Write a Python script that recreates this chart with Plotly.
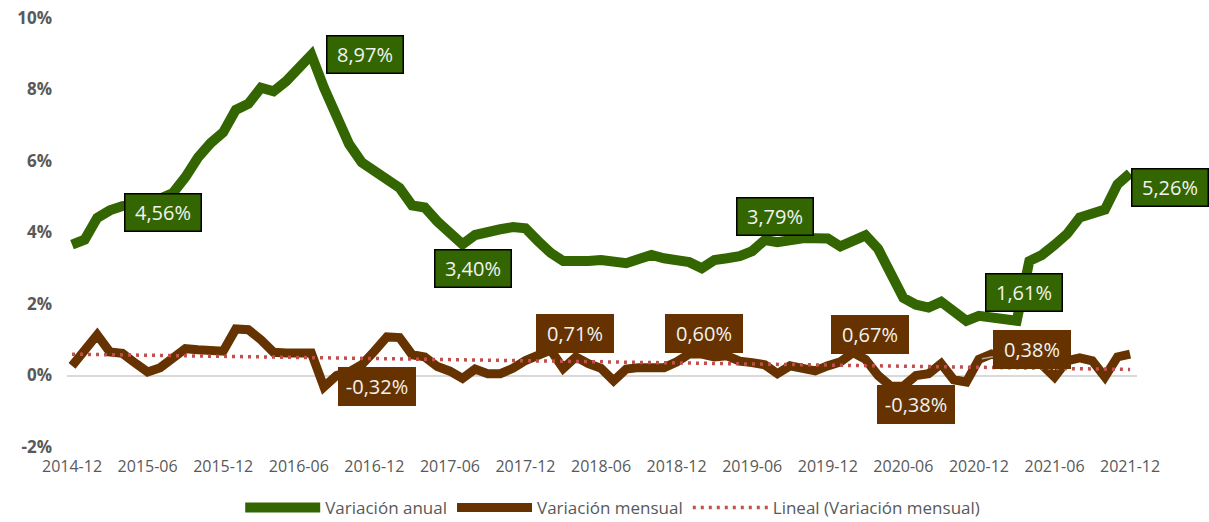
import numpy as np
import pandas as pd
import plotly.graph_objects as go

# ---------------- data ----------------
months = [p.strftime("%Y-%m") for p in pd.period_range("2014-12", "2021-12", freq="M")]

variacion_anual = [
    3.66, 3.80, 4.41, 4.62, 4.74, 4.77, 4.82, 4.95, 5.10, 5.55, 6.10, 6.50, 6.80,
    7.43, 7.60, 8.05, 7.95, 8.23, 8.60, 8.97, 8.05, 7.25, 6.47, 5.96, 5.74,
    5.50, 5.25, 4.76, 4.70, 4.31, 3.98, 3.67, 3.93, 4.03, 4.09, 4.15, 4.12,
    3.76, 3.43, 3.20, 3.17, 3.20, 3.23, 3.17, 3.14, 3.26, 3.37, 3.28, 3.20,
    3.17, 3.00, 3.23, 3.28, 3.34, 3.48, 3.79, 3.73, 3.81, 3.84, 3.84, 3.83,
    3.61, 3.78, 3.92, 3.54, 2.84, 2.17, 1.98, 1.90, 2.06, 1.78, 1.53, 1.67,
    1.64, 1.58, 1.53, 3.20, 3.37, 3.65, 3.96, 4.42, 4.53, 4.64, 5.35, 5.66,
]

variacion_mensual = [
    0.27, 0.70, 1.14, 0.66, 0.62, 0.35, 0.10, 0.22, 0.50, 0.75, 0.72, 0.68, 0.68,
    1.30, 1.28, 1.00, 0.65, 0.63, 0.60, 0.63, -0.32, 0.00, 0.10, 0.30, 0.68,
    1.08, 1.06, 0.58, 0.52, 0.25, 0.12, -0.08, 0.18, 0.05, 0.05, 0.20, 0.42,
    0.60, 0.71, 0.20, 0.52, 0.33, 0.20, -0.15, 0.18, 0.22, 0.20, 0.22, 0.38,
    0.60, 0.60, 0.52, 0.55, 0.40, 0.36, 0.30, 0.05, 0.27, 0.20, 0.13, 0.27,
    0.38, 0.64, 0.45, 0.00, -0.30, -0.30, 0.00, 0.05, 0.33, -0.12, -0.18, 0.45,
    0.60, 0.50, 0.45, 0.40, 0.30, -0.04, 0.41, 0.49, 0.41, -0.04, 0.52, 0.60,
]

tick_labels = months[::6]
y_ticks = [-2, 0, 2, 4, 6, 8, 10]
y_tick_text = ["-2%", "0%", "2%", "4%", "6%", "8%", "10%"]

label_idx_anual = [4, 19, 31, 55, 75, 84]
label_text_anual = ["4,56%", "8,97%", "3,40%", "3,79%", "1,61%", "5,26%"]
label_idx_mensual = [20, 38, 49, 62, 66, 72]
label_text_mensual = ["-0,32%", "0,71%", "0,60%", "0,67%", "-0,38%", "0,38%"]

# ---------------- styles ----------------
GREEN = "#336600"
BROWN = "#663300"
RED = "#C0504D"
GREY_TXT = "#595959"
offs_anual = [(41, -6), (54, 0), (10, -24), (10, 24), (7, 28), (40, -14)]
offs_mensual = [(53, 0), (24, 17), (15, 21), (17, 18), (13, -18), (53, 10)]

# linear trend of the monthly series
xi = np.arange(len(variacion_mensual))
coef = np.polyfit(xi, np.array(variacion_mensual), 1)
trend = np.polyval(coef, xi)

fig = go.Figure()
fig.add_trace(go.Scatter(x=months, y=variacion_anual, mode="lines", name="Variación anual",
                         line=dict(color=GREEN, width=10)))
fig.add_trace(go.Scatter(x=months, y=variacion_mensual, mode="lines", name="Variación mensual",
                         line=dict(color=BROWN, width=9)))
fig.add_trace(go.Scatter(x=months, y=trend, mode="lines", name="Lineal (Variación mensual)",
                         line=dict(color=RED, width=3.5, dash="3px,5px")))

annots = []
for i, t, (dx, dy) in zip(label_idx_anual, label_text_anual, offs_anual):
    annots.append(dict(x=months[i], y=variacion_anual[i], text=t, showarrow=False,
                       xshift=dx, yshift=dy, bgcolor=GREEN, bordercolor="#000000",
                       borderwidth=1.5, borderpad=1.5, width=72, height=33,
                       font=dict(family="Open Sans", size=20, color="#f2f2f2")))
for i, t, (dx, dy) in zip(label_idx_mensual, label_text_mensual, offs_mensual):
    a = dict(x=months[i], y=variacion_mensual[i], text=t,
             bgcolor=BROWN, borderwidth=0, borderpad=2, width=74, height=35,
             font=dict(family="Open Sans", size=20, color="#f2f2f2"))
    if t == "0,38%":
        a.update(showarrow=True, ax=dx, ay=-dy, arrowhead=0, arrowwidth=1.5,
                 arrowcolor="#a6a6a6", standoff=3)
    else:
        a.update(showarrow=False, xshift=dx, yshift=dy)
    annots.append(a)

fig.update_layout(
    width=1209, height=522,
    margin=dict(l=67, r=72, t=18, b=75, autoexpand=False),
    plot_bgcolor="white", paper_bgcolor="white",
    showlegend=True,
    legend=dict(orientation="h", x=0.51, xanchor="center", y=-0.142, yanchor="middle",
                itemwidth=75,
                font=dict(family="Open Sans", size=17, color=GREY_TXT)),
    annotations=annots,
)
fig.update_xaxes(type="category", categoryorder="array", categoryarray=months,
                 range=[-0.4, 84.55], tickmode="array", tickvals=tick_labels,
                 ticktext=tick_labels, showgrid=False, zeroline=False, showline=False,
                 ticks="", ticklabelstandoff=8, automargin=False,
                 tickfont=dict(family="Open Sans", size=16, color=GREY_TXT))
fig.update_yaxes(range=[-2, 10], tickmode="array", tickvals=y_ticks, ticktext=y_tick_text,
                 showgrid=False, zeroline=True, zerolinecolor="#d9d9d9", zerolinewidth=2,
                 showline=False, ticks="", ticklabelstandoff=14, automargin=False,
                 tickfont=dict(family="Open Sans", size=17, color=GREY_TXT, weight="bold"))

fig.write_html("out.html", config={"displayModeBar": False},
               post_script="document.body.style.margin='0';document.body.style.overflow='hidden';")
